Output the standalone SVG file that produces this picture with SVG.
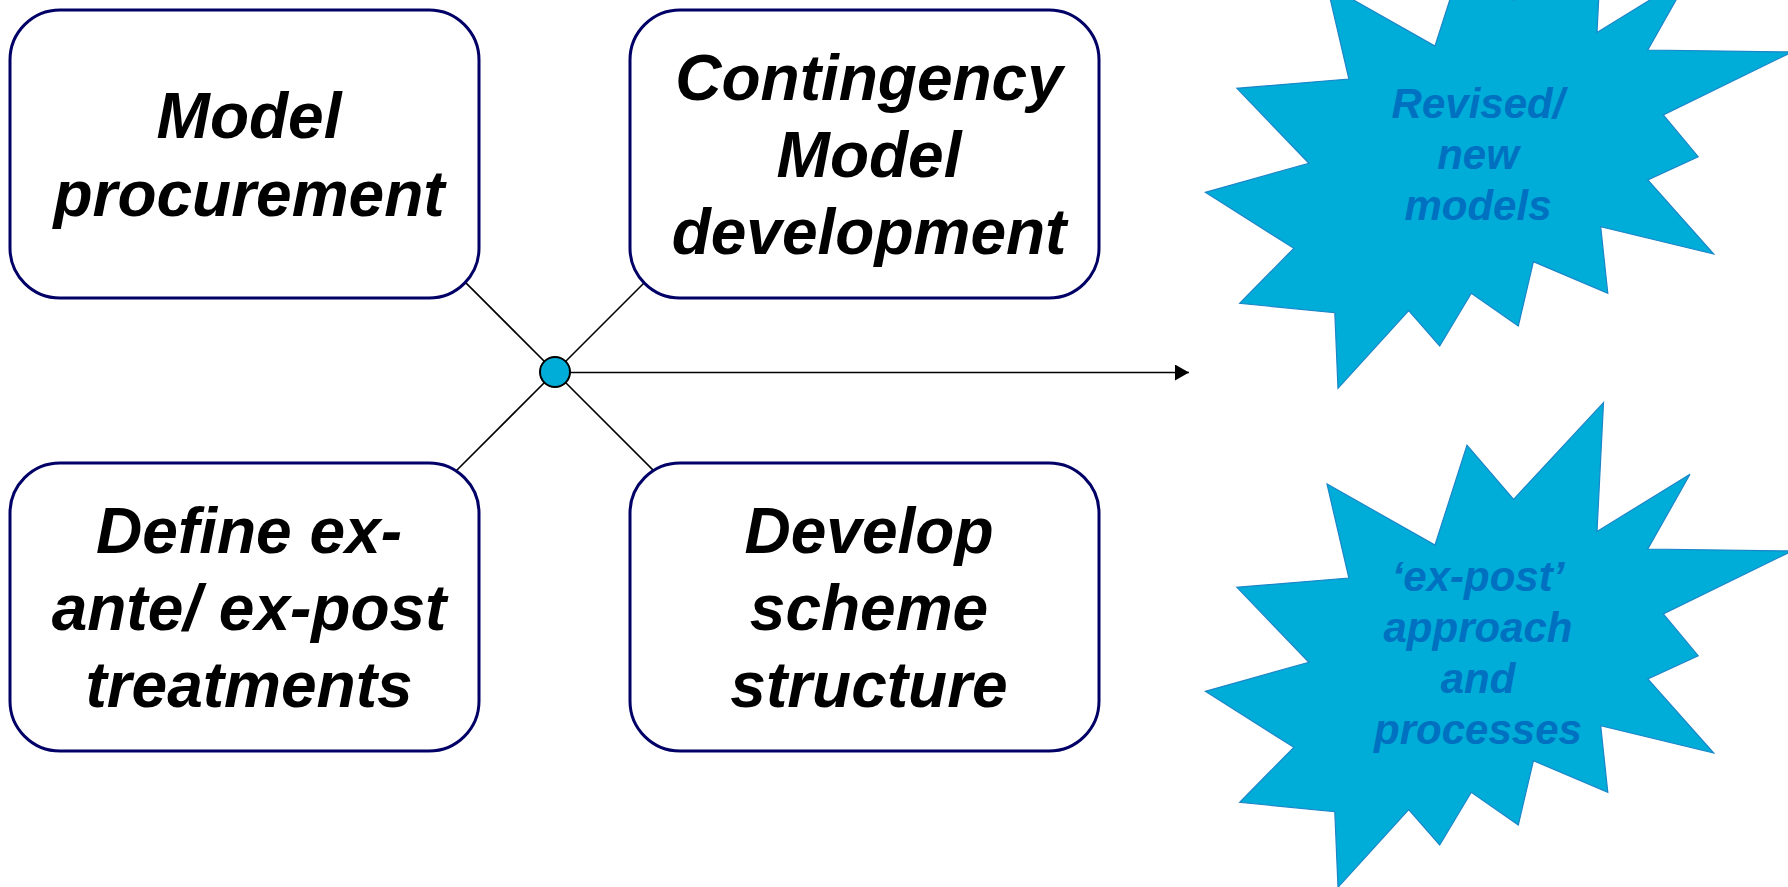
<svg xmlns="http://www.w3.org/2000/svg" xmlns:xlink="http://www.w3.org/1999/xlink" width="1788" height="887" viewBox="0 0 1788 887">
<style>
.box{fill:#ffffff;stroke:#000066;stroke-width:3}
.btxt{font-family:"Liberation Sans",Arial,sans-serif;font-weight:bold;font-style:italic;font-size:64px;fill:#000000;text-anchor:middle}
.star{fill:#00ADD8;stroke:#1A86C8;stroke-width:1.2}
.stxt{font-family:"Liberation Sans",Arial,sans-serif;font-weight:bold;font-style:italic;font-size:42px;fill:#0070C0;text-anchor:middle}
.conn{stroke:#000000;stroke-width:1.6;fill:none}
</style>
<defs>
<marker id="arr" markerWidth="14" markerHeight="16" refX="14" refY="8" orient="auto" markerUnits="userSpaceOnUse">
<path d="M0,0 L14,8 L0,16 Z" fill="#000000"/>
</marker>
<polygon id="starShape" points="1205.3,192.3 1308.9,163.3 1236.9,88.3 1348.9,79 1327,-15 1435,46 1467,-53.7 1513.6,0.3 1603.5,-96.3 1597,32.5 1690,-24.7 1647.8,50 1792,52 1663.3,115 1698.2,156.7 1647.8,180 1713.7,254 1600.7,226.7 1607.8,293.3 1533.4,261.7 1518.3,326 1471.3,293.3 1439.7,346 1408.7,310.7 1338,388.3 1334.8,312.7 1239.7,303.3 1293.8,248.3"/>
</defs>
<rect width="1788" height="887" fill="#ffffff"/>
<g id="connectors">
<line class="conn" x1="555" y1="372" x2="465.4" y2="282.4"/>
<line class="conn" x1="555" y1="372" x2="644" y2="283"/>
<line class="conn" x1="555" y1="372" x2="456" y2="471"/>
<line class="conn" x1="555" y1="372" x2="653.6" y2="470.6"/>
<line class="conn" x1="570" y1="372.5" x2="1189" y2="372.5" stroke-width="2" marker-end="url(#arr)"/>
</g>
<g id="hub">
<circle cx="555" cy="372" r="15" fill="#00ADD8" stroke="#000000" stroke-width="2"/>
</g>
<g id="node-model-procurement">
<rect class="box" x="10" y="10" width="469" height="288" rx="50" ry="50"/>
<text class="btxt" x="249" y="138">Model</text>
<text class="btxt" x="249" y="216">procurement</text>
</g>
<g id="node-contingency">
<rect class="box" x="630" y="10" width="469" height="288" rx="50" ry="50"/>
<text class="btxt" x="869" y="100">Contingency</text>
<text class="btxt" x="869" y="177">Model</text>
<text class="btxt" x="869" y="254">development</text>
</g>
<g id="node-define">
<rect class="box" x="10" y="463" width="469" height="288" rx="50" ry="50"/>
<text class="btxt" x="249" y="553">Define ex-</text>
<text class="btxt" x="249" y="630">ante/ ex-post</text>
<text class="btxt" x="249" y="707">treatments</text>
</g>
<g id="node-develop">
<rect class="box" x="630" y="463" width="469" height="288" rx="50" ry="50"/>
<text class="btxt" x="869" y="553">Develop</text>
<text class="btxt" x="869" y="630">scheme</text>
<text class="btxt" x="869" y="707">structure</text>
</g>
<g id="node-revised">
<use xlink:href="#starShape" href="#starShape" class="star"/>
<text class="stxt" x="1478" y="118">Revised/</text>
<text class="stxt" x="1478" y="169">new</text>
<text class="stxt" x="1478" y="220">models</text>
</g>
<g id="node-expost">
<use xlink:href="#starShape" href="#starShape" class="star" transform="translate(0,499)"/>
<text class="stxt" x="1478" y="591">‘ex-post’</text>
<text class="stxt" x="1478" y="642">approach</text>
<text class="stxt" x="1478" y="693">and</text>
<text class="stxt" x="1478" y="744">processes</text>
</g>
</svg>
